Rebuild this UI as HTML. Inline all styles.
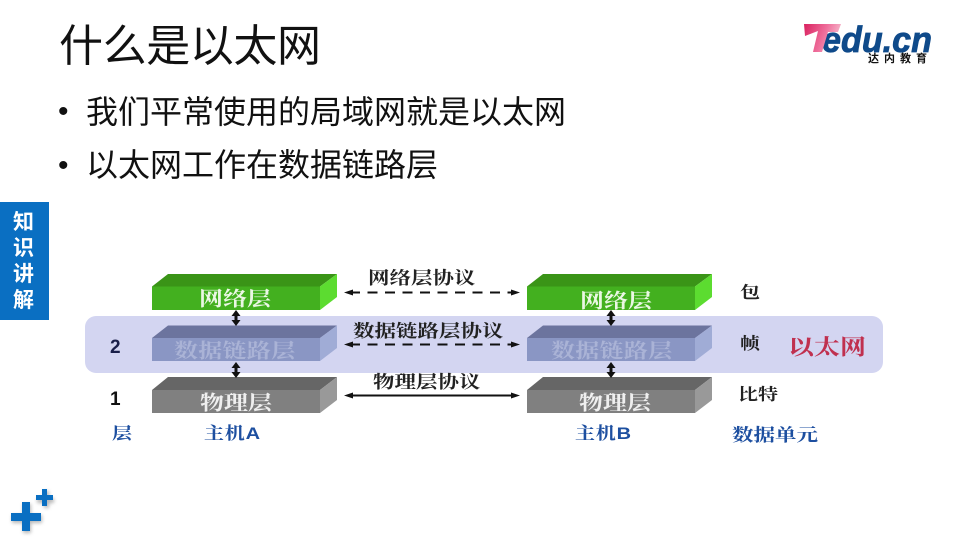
<!DOCTYPE html>
<html>
<head>
<meta charset="utf-8">
<style>
html,body{margin:0;padding:0;background:#fff;}
#s{position:relative;width:960px;height:540px;overflow:hidden;background:#fff;font-family:"Liberation Sans","Noto Sans CJK SC",sans-serif;}
.t{position:absolute;white-space:nowrap;line-height:1;}
.f{font-family:"Liberation Serif","Noto Serif CJK SC",serif;font-weight:bold;transform:scaleY(0.82);transform-origin:50% 50%;}
.g{font-family:"Liberation Sans","Noto Serif CJK SC",serif;font-weight:bold;transform:scaleY(0.85);transform-origin:50% 50%;}
svg{position:absolute;left:0;top:0;}
</style>
</head>
<body>
<div id="s">
<div class="t" style="left:59px;top:25px;font-size:44px;letter-spacing:-0.4px;color:#111;">什么是以太网</div>
<div class="t" style="left:58px;top:97px;font-size:30px;color:#111;">•</div>
<div class="t" style="left:86px;top:96px;font-size:32px;color:#111;">我们平常使用的局域网就是以太网</div>
<div class="t" style="left:58px;top:151px;font-size:30px;color:#111;">•</div>
<div class="t" style="left:86px;top:149px;font-size:32px;color:#111;">以太网工作在数据链路层</div>

<div style="position:absolute;left:0;top:202px;width:49px;height:118px;background:#0a6fc2;"></div>
<div class="t" style="left:13px;top:210px;font-size:21px;font-weight:bold;color:#fff;line-height:26px;white-space:normal;width:24px;">知识讲解</div>

<svg width="960" height="540" viewBox="0 0 960 540">
<defs>
<linearGradient id="tg" x1="0" y1="0" x2="1" y2="0.3"><stop offset="0" stop-color="#d9205f"/><stop offset="0.6" stop-color="#ef6f9c"/><stop offset="1" stop-color="#f6b8cc"/></linearGradient>
<filter id="sh" x="-30%" y="-30%" width="170%" height="170%"><feGaussianBlur stdDeviation="1.8"/></filter>
</defs>

<rect x="85" y="316" width="798" height="57" rx="11" fill="#d3d5f1"/>

<!-- left blocks -->
<polygon points="152,286.500 168,274 337,274 320,286.500" fill="#3a9417"/>
<rect x="152" y="286.500" width="168" height="23.500" fill="#43b01f"/>
<polygon points="320,286.500 337,274 337,297 320,310" fill="#5cdc30"/>

<polygon points="152,338 168,325.500 337,325.500 320,338" fill="#6c749e"/>
<rect x="152" y="338" width="168" height="23" fill="#8a96c4"/>
<polygon points="320,338 337,325.500 337,348 320,361" fill="#a0acd6"/>

<polygon points="152,390 168,377 337,377 320,390" fill="#666666"/>
<rect x="152" y="390" width="168" height="23" fill="#808080"/>
<polygon points="320,390 337,377 337,400 320,413" fill="#999999"/>

<!-- right blocks -->
<polygon points="527,286.500 543,274 712,274 695,286.500" fill="#3a9417"/>
<rect x="527" y="286.500" width="168" height="23.500" fill="#43b01f"/>
<polygon points="695,286.500 712,274 712,297 695,310" fill="#5cdc30"/>

<polygon points="527,338 543,325.500 712,325.500 695,338" fill="#6c749e"/>
<rect x="527" y="338" width="168" height="23" fill="#8a96c4"/>
<polygon points="695,338 712,325.500 712,348 695,361" fill="#a0acd6"/>

<polygon points="527,390 543,377 712,377 695,390" fill="#666666"/>
<rect x="527" y="390" width="168" height="23" fill="#808080"/>
<polygon points="695,390 712,377 712,400 695,413" fill="#999999"/>

<!-- vertical arrows -->
<g stroke="#111" stroke-width="3" fill="none">
<line x1="236" y1="314" x2="236" y2="322"/>
<line x1="236" y1="366" x2="236" y2="374"/>
<line x1="611" y1="314" x2="611" y2="322"/>
<line x1="611" y1="366" x2="611" y2="374"/>
</g>
<g fill="#111">
<polygon points="236,310 231.500,316 240.500,316"/><polygon points="236,326 231.500,320 240.500,320"/>
<polygon points="236,362 231.500,368 240.500,368"/><polygon points="236,378 231.500,372 240.500,372"/>
<polygon points="611,310 606.500,316 615.500,316"/><polygon points="611,326 606.500,320 615.500,320"/>
<polygon points="611,362 606.500,368 615.500,368"/><polygon points="611,378 606.500,372 615.500,372"/>
</g>

<!-- horizontal arrows -->
<g stroke="#111" stroke-width="2" fill="none">
<line x1="350" y1="292.500" x2="514" y2="292.500" stroke-dasharray="10 7.500"/>
<line x1="350" y1="344.500" x2="514" y2="344.500" stroke-dasharray="10 7.500"/>
<line x1="350" y1="395.500" x2="514" y2="395.500"/>
</g>
<g fill="#111">
<polygon points="344,292.500 353,289.500 353,295.500"/><polygon points="520,292.500 511,289.500 511,295.500"/>
<polygon points="344,344.500 353,341.500 353,347.500"/><polygon points="520,344.500 511,341.500 511,347.500"/>
<polygon points="344,395.500 353,392.500 353,398.500"/><polygon points="520,395.500 511,392.500 511,398.500"/>
</g>

<!-- logo -->
<text x="822" y="52" font-family="Liberation Sans" font-size="36" font-weight="bold" font-style="italic" fill="#0f4a8a" stroke="#0f4a8a" stroke-width="0.800" textLength="110" lengthAdjust="spacingAndGlyphs">edu.cn</text>
<polygon points="804,24 841,24 838,32 828,32 822,52 813,52 818,31 805,36" fill="url(#tg)"/>

<!-- plus icon -->
<g fill="#999" filter="url(#sh)" opacity="0.7">
<rect x="23" y="504" width="8" height="29"/><rect x="12" y="515" width="30" height="8"/>
<rect x="44" y="491" width="5" height="17"/><rect x="37" y="498" width="17" height="5"/>
</g>
<g fill="#0a6fc2">
<rect x="22" y="502" width="8" height="29"/><rect x="11" y="513" width="30" height="8"/>
<rect x="42" y="489" width="5" height="17"/><rect x="36" y="495" width="17" height="5"/>
</g>
</svg>

<div class="t" style="left:868px;top:54px;font-size:11px;font-weight:bold;letter-spacing:5px;color:#111;">达内教育</div>

<!-- block labels -->
<div class="t f" style="left:199px;top:288px;font-size:24px;color:#eaf7e4;">网络层</div>
<div class="t f" style="left:174px;top:340px;font-size:24px;letter-spacing:0.300px;color:#aab3d6;">数据链路层</div>
<div class="t f" style="left:200px;top:392px;font-size:24px;color:#efefef;">物理层</div>
<div class="t f" style="left:580px;top:290px;font-size:24px;color:#eaf7e4;">网络层</div>
<div class="t f" style="left:551px;top:340px;font-size:24px;letter-spacing:0.300px;color:#aab3d6;">数据链路层</div>
<div class="t f" style="left:579px;top:392px;font-size:24px;color:#efefef;">物理层</div>

<!-- protocol labels -->
<div class="t f" style="left:368px;top:268px;font-size:21.500px;color:#222;">网络层协议</div>
<div class="t f" style="left:353px;top:321px;font-size:21.500px;color:#222;">数据链路层协议</div>
<div class="t f" style="left:373px;top:372px;font-size:21.500px;color:#222;">物理层协议</div>

<!-- left column -->
<div class="t" style="left:110px;top:338px;font-size:19px;font-weight:bold;color:#1a1f4a;">2</div>
<div class="t" style="left:110px;top:390px;font-size:19px;font-weight:bold;color:#111;">1</div>
<div class="t f" style="left:112px;top:424px;font-size:20px;color:#1d4fa0;">层</div>
<div class="t g" style="left:204px;top:424px;font-size:20px;letter-spacing:0.800px;color:#1d4fa0;">主机A</div>
<div class="t g" style="left:575px;top:424px;font-size:20px;letter-spacing:0.800px;color:#1d4fa0;">主机B</div>
<div class="t f" style="left:732px;top:425px;font-size:21.500px;color:#1d4fa0;">数据单元</div>

<!-- right column -->
<div class="t f" style="left:740px;top:283px;font-size:20px;color:#222;">包</div>
<div class="t f" style="left:740px;top:334px;font-size:20px;color:#222;">帧</div>
<div class="t f" style="left:738px;top:385px;font-size:20px;color:#222;">比特</div>
<div class="t f" style="left:788px;top:335px;font-size:26px;color:#c0304f;">以太网</div>
</div>
</body>
</html>
